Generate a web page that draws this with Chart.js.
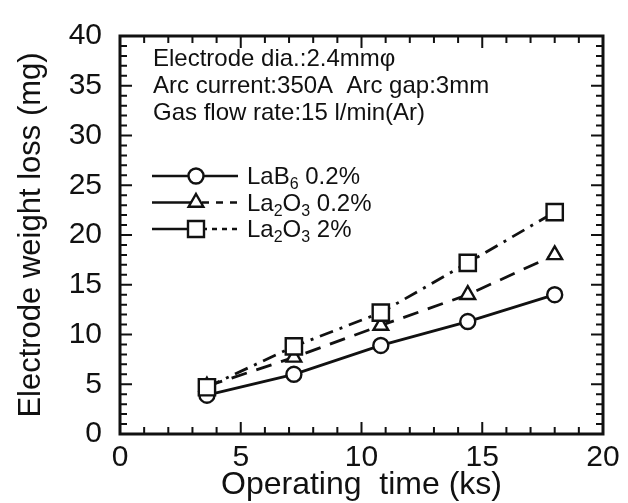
<!DOCTYPE html>
<html>
<head>
<meta charset="utf-8">
<script src="https://cdn.jsdelivr.net/npm/chart.js"></script>
<style>
  html, body { margin: 0; padding: 0; background: #fff; }
  #wrap { width: 628px; height: 503px; }
</style>
</head>
<body>
<div id="wrap"><canvas id="c" width="628" height="503"></canvas></div>
<script>
// ═══ DATA ═══
const timeKs = [3.6, 7.2, 10.8, 14.4, 18];
const lab6Low = [3.9, 6.0, 8.9, 11.3, 14.0];
const la2o3Low = [4.8, 7.7, 10.9, 14.0, 18.0];
const la2o3High = [4.7, 8.8, 12.2, 17.2, 22.3];

const xRange = [0, 20];
const yRange = [0, 40];
const majorStep = 5;
const minorStep = 1;

const conditions = [
  'Electrode dia.:2.4mmφ',
  'Arc current:350A  Arc gap:3mm',
  'Gas flow rate:15 l/min(Ar)',
];

// label pieces: [text, isSubscript]
const legendLabels = [
  [['LaB', 0], ['6', 1], [' 0.2%', 0]],
  [['La', 0], ['2', 1], ['O', 0], ['3', 1], [' 0.2%', 0]],
  [['La', 0], ['2', 1], ['O', 0], ['3', 1], [' 2%', 0]],
];

const FONT = '"Liberation Sans", Arial, Helvetica, sans-serif';
const INK = '#111';

const toPoints = ys => ys.map((y, i) => ({ x: timeKs[i], y }));

// ═══ FRAME + INWARD TICKS ═══
const framePlugin = {
  id: 'frame',
  afterDraw(chart) {
    const { ctx, chartArea: a, scales: { x, y } } = chart;
    ctx.save();
    ctx.strokeStyle = INK;
    ctx.lineWidth = 2;
    ctx.beginPath();
    for (let v = xRange[0]; v <= xRange[1]; v += minorStep) {
      const px = x.getPixelForValue(v);
      const len = v % majorStep === 0 ? 12 : 7;
      ctx.moveTo(px, a.bottom); ctx.lineTo(px, a.bottom - len);
      ctx.moveTo(px, a.top); ctx.lineTo(px, a.top + len);
    }
    for (let v = yRange[0]; v <= yRange[1]; v += minorStep) {
      const py = y.getPixelForValue(v);
      const len = v % majorStep === 0 ? 12 : 7;
      ctx.moveTo(a.left, py); ctx.lineTo(a.left + len, py);
      ctx.moveTo(a.right, py); ctx.lineTo(a.right - len, py);
    }
    ctx.stroke();
    ctx.lineWidth = 3;
    ctx.strokeRect(a.left, a.top, a.right - a.left, a.bottom - a.top);
    ctx.restore();
  }
};

// ═══ CONDITIONS + LEGEND ═══
function drawMarker(ctx, style, cx, cy) {
  ctx.beginPath();
  if (style === 'circle') {
    ctx.arc(cx, cy, 7.5, 0, Math.PI * 2);
  } else if (style === 'triangle') {
    const r = 8.5;
    ctx.moveTo(cx, cy - r);
    ctx.lineTo(cx + r * Math.sin(2 * Math.PI / 3), cy - r * Math.cos(2 * Math.PI / 3));
    ctx.lineTo(cx + r * Math.sin(4 * Math.PI / 3), cy - r * Math.cos(4 * Math.PI / 3));
    ctx.closePath();
  } else {
    ctx.rect(cx - 8, cy - 8, 16, 16);
  }
  ctx.fillStyle = '#fff';
  ctx.fill();
  ctx.stroke();
}

const notesPlugin = {
  id: 'notes',
  afterDraw(chart) {
    const ctx = chart.ctx;
    ctx.save();
    ctx.fillStyle = INK;
    ctx.textBaseline = 'alphabetic';
    ctx.textAlign = 'left';
    ctx.font = '24px ' + FONT;
    conditions.forEach((t, i) => ctx.fillText(t, 153, 66 + i * 27));

    const rows = chart.data.datasets;
    const tailDash = [[], [7, 7], [5, 5]];
    rows.forEach((ds, i) => {
      const base = 184 + i * 26.5;
      const ly = base - 8;
      ctx.strokeStyle = INK;
      ctx.lineWidth = 2.5;
      ctx.setLineDash([]);
      ctx.beginPath(); ctx.moveTo(152, ly); ctx.lineTo(196, ly); ctx.stroke();
      ctx.setLineDash(tailDash[i]);
      ctx.beginPath(); ctx.moveTo(202, ly); ctx.lineTo(238, ly); ctx.stroke();
      ctx.setLineDash([]);
      ctx.lineWidth = 2.4;
      drawMarker(ctx, ds.pointStyle, 196, ly);

      let tx = 247;
      ctx.fillStyle = INK;
      legendLabels[i].forEach(([txt, sub]) => {
        ctx.font = (sub ? '16px ' : '24px ') + FONT;
        ctx.fillText(txt, tx, base + (sub ? 5 : 0));
        tx += ctx.measureText(txt).width;
      });
    });
    ctx.restore();
  }
};

// ═══ CHART ═══
const common = {
  showLine: true,
  borderColor: INK,
  borderWidth: 2.8,
  pointBackgroundColor: '#fff',
  pointBorderColor: INK,
  pointBorderWidth: 2.4,
  pointHoverRadius: 8,
  tension: 0,
};

new Chart(document.getElementById('c'), {
  type: 'scatter',
  data: {
    datasets: [
      { ...common, label: 'LaB6 0.2%', data: toPoints(lab6Low), pointStyle: 'circle', pointRadius: 7.5, order: 3 },
      { ...common, label: 'La2O3 0.2%', data: toPoints(la2o3Low), pointStyle: 'triangle', pointRadius: 8.5, borderDash: [16, 10], order: 2 },
      { ...common, label: 'La2O3 2%', data: toPoints(la2o3High), pointStyle: 'rect', pointRadius: 11.5, borderDash: [14, 7, 3, 7], order: 1 },
    ]
  },
  options: {
    responsive: false,
    animation: false,
    layout: { padding: { left: 0, right: 25, top: 27, bottom: 0 } },
    plugins: { legend: { display: false }, tooltip: { enabled: false } },
    scales: {
      x: {
        type: 'linear', min: xRange[0], max: xRange[1],
        afterFit: s => { s.height = 69; },
        grid: { display: false, drawTicks: false },
        border: { display: false },
        ticks: { stepSize: majorStep, padding: 6, color: INK, font: { family: FONT, size: 30 } },
        title: { display: true, text: 'Operating  time (ks)', color: INK, padding: { bottom: 2 },
                 font: { family: FONT, size: 32, lineHeight: 1 } }
      },
      y: {
        type: 'linear', min: yRange[0], max: yRange[1],
        afterFit: s => { s.width = 120; },
        grid: { display: false, drawTicks: false },
        border: { display: false },
        ticks: { stepSize: majorStep, padding: 18, color: INK, font: { family: FONT, size: 30 } },
        title: { display: true, text: 'Electrode weight loss (mg)', color: INK, padding: { top: 16 },
                 font: { family: FONT, size: 31, lineHeight: 1 } }
      }
    }
  },
  plugins: [framePlugin, notesPlugin]
});
</script>
</body>
</html>
